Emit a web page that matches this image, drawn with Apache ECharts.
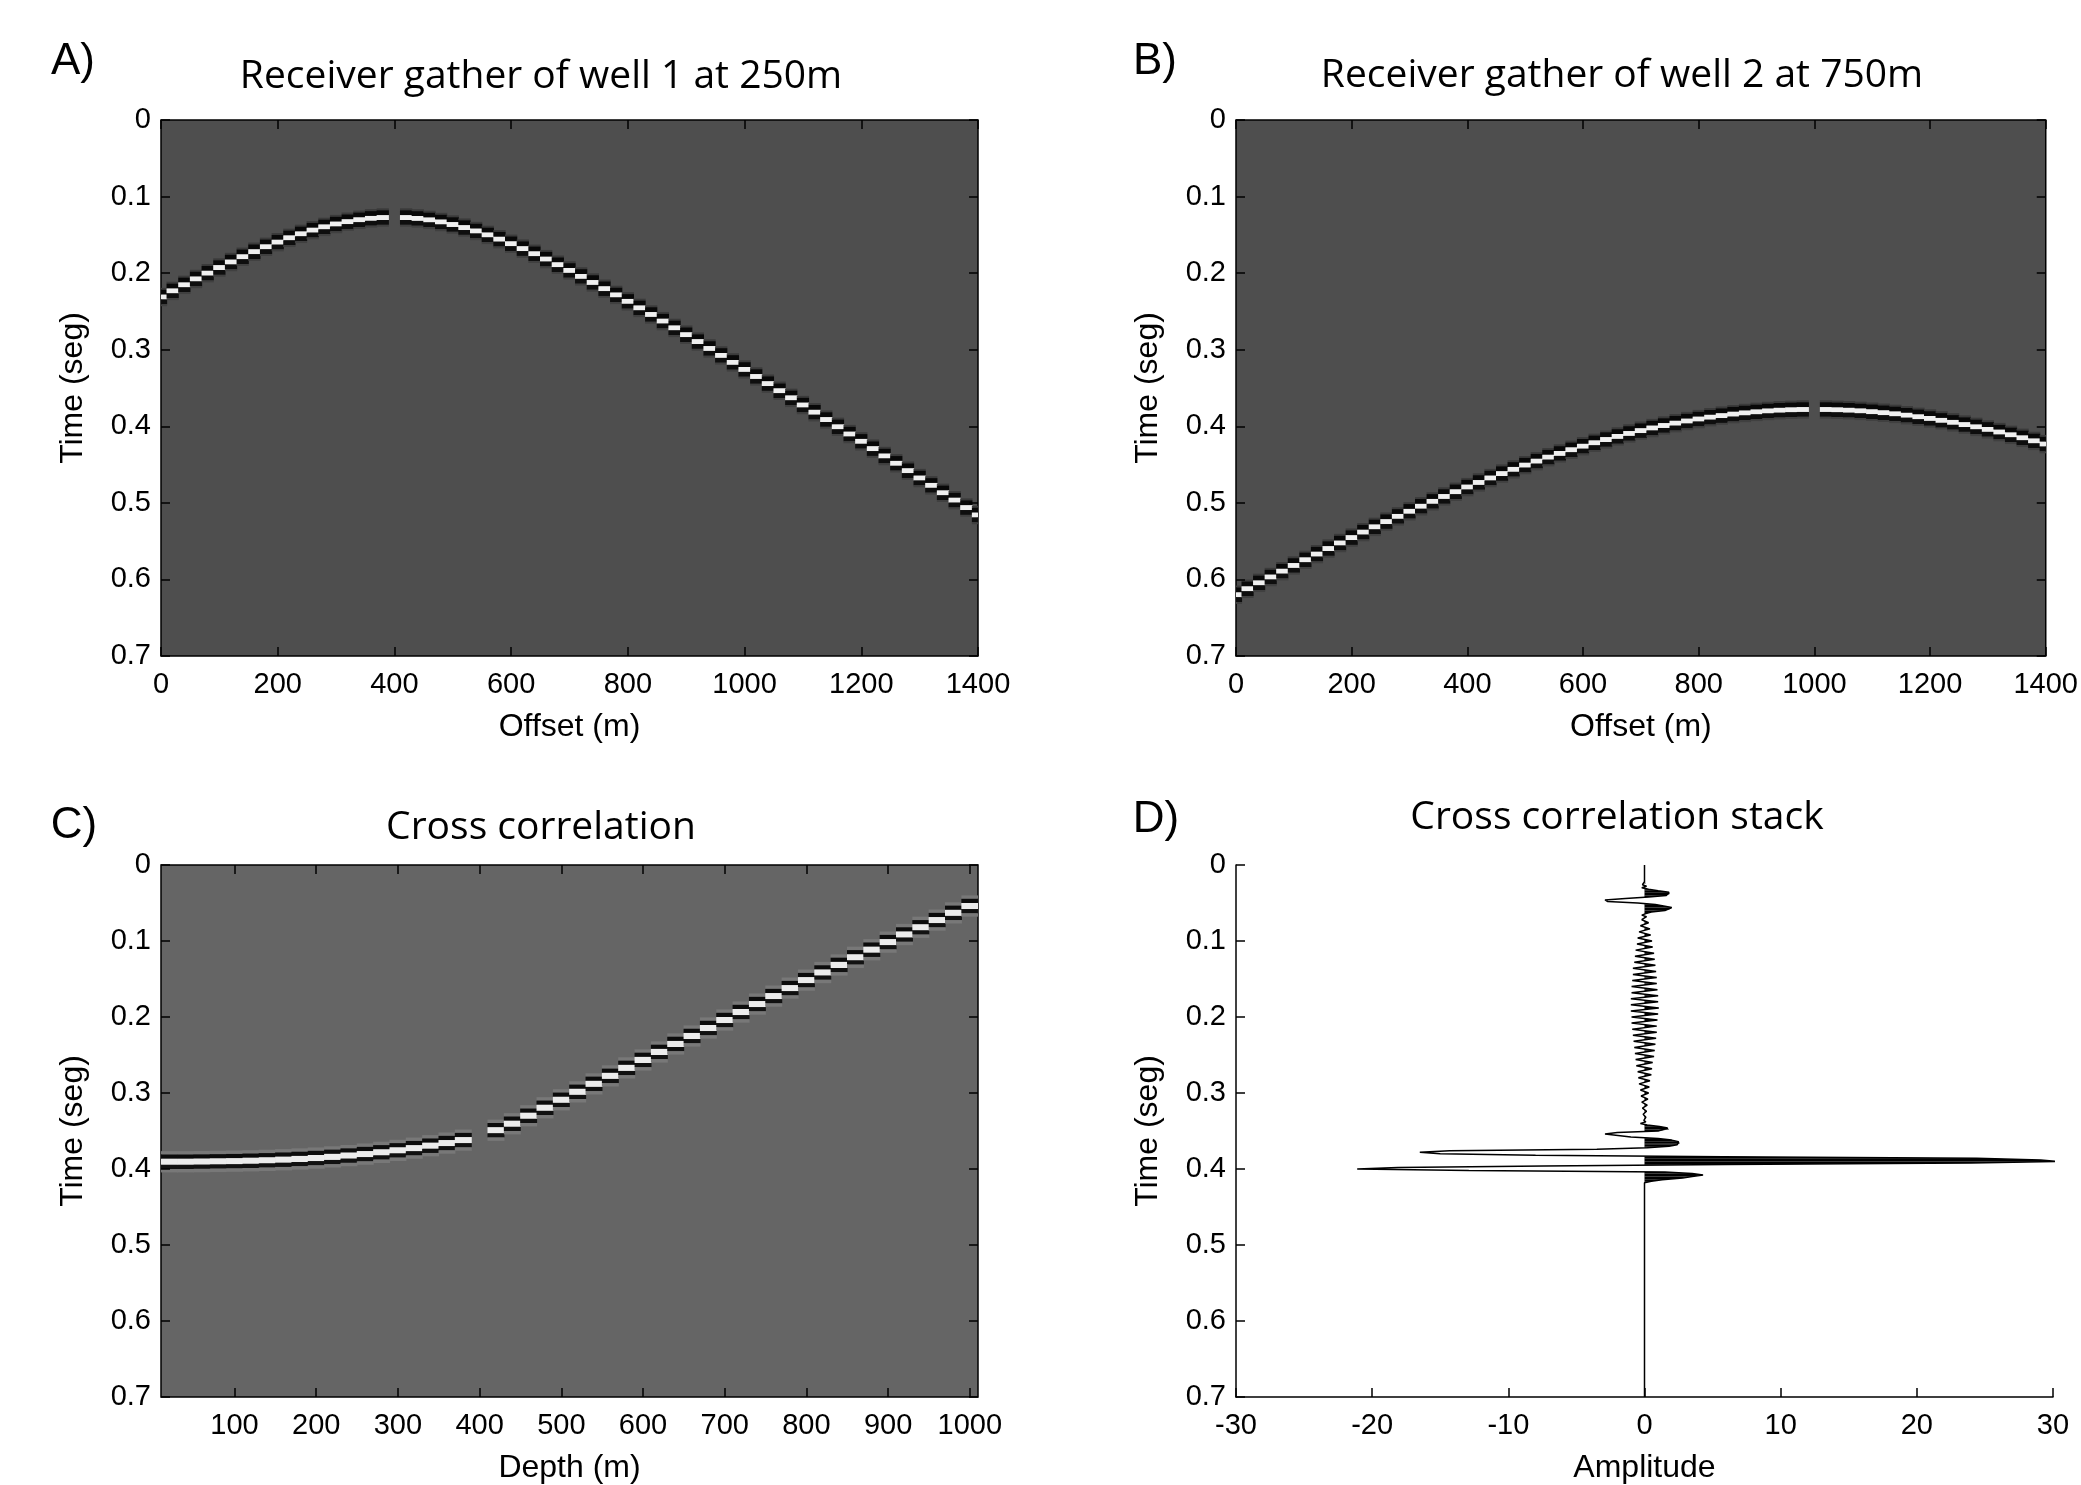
<!DOCTYPE html>
<html><head><meta charset="utf-8">
<script src="https://cdn.jsdelivr.net/npm/echarts@6/dist/echarts.min.js"></script>
<style>html,body{margin:0;padding:0;background:#fff}#chart{width:2081px;height:1485px}</style>
</head><body><div id="chart"></div>
<script>
// ---------- tick labels ----------
const timeTicks = [0, 0.1, 0.2, 0.3, 0.4, 0.5, 0.6, 0.7];
const offsetTicks = [0, 200, 400, 600, 800, 1000, 1200, 1400];
const depthTicks = [100, 200, 300, 400, 500, 600, 700, 800, 900, 1000];
const ampTicks = [-30, -20, -10, 0, 10, 20, 30];
const traceSpacing = 20;

// ---------- A) receiver gather well 1: [offset m, event time s] (dead trace at 400) ----------
const gatherA = [
  [0,0.2312],[20,0.2232],[40,0.2153],[60,0.2076],[80,0.2001],[100,0.1927],[120,0.1855],[140,0.1786],
  [160,0.1720],[180,0.1656],[200,0.1596],[220,0.1539],[240,0.1487],[260,0.1439],[280,0.1396],[300,0.1359],
  [320,0.1328],[340,0.1303],[360,0.1285],[380,0.1274],
  [420,0.1274],[440,0.1286],[460,0.1305],[480,0.1332],[500,0.1365],[520,0.1405],[540,0.1450],[560,0.1501],
  [580,0.1557],[600,0.1616],[620,0.1680],[640,0.1747],[660,0.1817],[680,0.1890],[700,0.1965],[720,0.2043],
  [740,0.2122],[760,0.2203],[780,0.2285],[800,0.2369],[820,0.2454],[840,0.2540],[860,0.2627],[880,0.2715],
  [900,0.2804],[920,0.2894],[940,0.2984],[960,0.3075],[980,0.3166],[1000,0.3258],[1020,0.3350],[1040,0.3443],
  [1060,0.3536],[1080,0.3629],[1100,0.3723],[1120,0.3817],[1140,0.3912],[1160,0.4007],[1180,0.4102],[1200,0.4197],
  [1220,0.4292],[1240,0.4388],[1260,0.4484],[1280,0.4580],[1300,0.4676],[1320,0.4772],[1340,0.4869],[1360,0.4965],
  [1380,0.5062],[1400,0.5159]
];

// ---------- B) receiver gather well 2: [offset m, event time s] (dead trace at 1000) ----------
const gatherB = [
  [0,0.6200],[20,0.6122],[40,0.6045],[60,0.5969],[80,0.5893],[100,0.5818],[120,0.5744],[140,0.5670],
  [160,0.5597],[180,0.5525],[200,0.5454],[220,0.5383],[240,0.5314],[260,0.5245],[280,0.5177],[300,0.5111],
  [320,0.5045],[340,0.4981],[360,0.4917],[380,0.4855],[400,0.4794],[420,0.4734],[440,0.4676],[460,0.4618],
  [480,0.4563],[500,0.4508],[520,0.4456],[540,0.4404],[560,0.4355],[580,0.4307],[600,0.4261],[620,0.4216],
  [640,0.4173],[660,0.4133],[680,0.4094],[700,0.4057],[720,0.4023],[740,0.3990],[760,0.3960],[780,0.3932],
  [800,0.3906],[820,0.3882],[840,0.3861],[860,0.3842],[880,0.3826],[900,0.3812],[920,0.3800],[940,0.3791],
  [960,0.3785],[980,0.3781],
  [1020,0.3781],[1040,0.3785],[1060,0.3791],[1080,0.3799],[1100,0.3810],[1120,0.3823],[1140,0.3838],[1160,0.3856],
  [1180,0.3876],[1200,0.3898],[1220,0.3923],[1240,0.3949],[1260,0.3978],[1280,0.4008],[1300,0.4041],[1320,0.4076],
  [1340,0.4112],[1360,0.4151],[1380,0.4191],[1400,0.4233]
];

// ---------- C) cross correlation: [depth m, lag time s] (dead trace at 400) ----------
const crossCorr = [
  [20,0.3905],[40,0.3905],[60,0.3903],[80,0.3900],[100,0.3897],[120,0.3892],[140,0.3886],[160,0.3878],
  [180,0.3868],[200,0.3856],[220,0.3841],[240,0.3824],[260,0.3804],[280,0.3781],[300,0.3755],[320,0.3726],
  [340,0.3694],[360,0.3659],[380,0.3620],
  [420,0.3490],[440,0.3405],[460,0.3300],[480,0.3195],[500,0.3090],[520,0.2985],[540,0.2880],[560,0.2775],
  [580,0.2670],[600,0.2565],[620,0.2460],[640,0.2355],[660,0.2250],[680,0.2145],[700,0.2040],[720,0.1935],
  [740,0.1830],[760,0.1725],[780,0.1620],[800,0.1515],[820,0.1415],[840,0.1315],[860,0.1215],[880,0.1115],
  [900,0.1015],[920,0.0915],[940,0.0820],[960,0.0725],[980,0.0630],[1000,0.0540]
];

// ---------- D) cross correlation stack: [time s, amplitude] ----------
const stackTrace = [
  [0,0],[0.022,0],[0.024,0.1],[0.026,-0.15],[0.028,0.15],[0.030,-0.2],[0.032,0.3],[0.034,1.0],
  [0.036,1.8],[0.038,1.85],[0.040,1.6],[0.042,0.3],[0.044,-1.4],[0.046,-2.9],[0.048,-2.7],[0.050,-0.5],
  [0.052,0.8],[0.054,1.4],[0.056,2.0],[0.058,1.9],[0.060,1.5],[0.062,0.5],[0.064,0.1],[0.066,-0.2],
  [0.068,0.15],[0.072,-0.2],[0.076,0.3],[0.080,-0.3],[0.084,0.4],[0.088,-0.4],[0.092,0.45],[0.096,-0.5],
  [0.100,0.55],[0.104,-0.55],[0.108,0.6],[0.112,-0.65],[0.116,0.7],[0.120,-0.7],[0.124,0.75],[0.128,-0.75],
  [0.132,0.8],[0.136,-0.85],[0.140,0.85],[0.144,-0.85],[0.148,0.9],[0.152,-0.9],[0.156,0.9],[0.160,-0.95],
  [0.164,0.95],[0.168,-0.95],[0.172,1.0],[0.176,-1.0],[0.180,1.0],[0.184,-1.0],[0.188,1.05],[0.192,-1.0],
  [0.196,1.0],[0.200,-0.95],[0.204,0.95],[0.208,-0.95],[0.212,0.9],[0.216,-0.9],[0.220,0.9],[0.224,-0.85],
  [0.228,0.85],[0.232,-0.8],[0.236,0.8],[0.240,-0.75],[0.244,0.75],[0.248,-0.7],[0.252,0.7],[0.256,-0.65],
  [0.260,0.6],[0.264,-0.6],[0.268,0.55],[0.272,-0.5],[0.276,0.5],[0.280,-0.45],[0.284,0.4],[0.288,-0.4],
  [0.292,0.35],[0.296,-0.3],[0.300,0.3],[0.304,-0.25],[0.308,0.25],[0.312,-0.2],[0.316,0.2],[0.320,-0.15],
  [0.324,0.15],[0.328,-0.1],[0.332,0.1],[0.336,-0.05],
  [0.338,0.1],[0.340,-0.3],[0.342,0.2],[0.344,1.1],[0.346,1.7],[0.348,1.8],[0.350,1.0],[0.352,-2.0],
  [0.354,-2.9],[0.356,-2.8],[0.358,-1.0],[0.360,1.0],[0.362,2.0],[0.364,2.5],[0.366,2.6],[0.368,2.4],
  [0.370,1.8],[0.372,0.2],[0.374,-3.5],[0.376,-14.3],[0.378,-16.5],[0.380,-15.0],[0.382,-8.0],[0.384,5.8],
  [0.386,24.4],[0.388,29.1],[0.390,30.2],[0.392,24.0],[0.394,6.0],[0.396,-7.4],[0.398,-18.1],[0.400,-21.1],
  [0.402,-12.9],[0.404,1.5],[0.406,3.5],[0.408,4.3],[0.410,3.5],[0.412,2.8],[0.414,1.3],[0.416,0.5],
  [0.418,0],[0.7,0]
];

// ---------- rendering helpers ----------
const chart = echarts.init(document.getElementById('chart'), null, {renderer: 'canvas'});
const tickFont = {fontFamily: 'Liberation Sans', fontSize: 29, color: '#000'};
const nameFont = {fontFamily: 'Liberation Sans', fontSize: 32, color: '#000'};
const black = '#000';
const plainNumber = v => String(v);

function bandRenderer(bands) {
  return function (params, api) {
    const c = api.coord([api.value(0), api.value(1)]);
    const w = api.size([traceSpacing, 0])[0];
    const ms = api.size([0, 0.001])[1];
    return {
      type: 'group',
      children: bands.map(b => ({
        type: 'rect',
        shape: {x: c[0] - w / 2 - 0.3, y: c[1] + b[0] * ms, width: w + 0.6, height: (b[1] - b[0]) * ms},
        style: {fill: b[2]}
      }))
    };
  };
}
const bandsAB = [[-12, -9.5, '#3a3a3a'], [-9.5, -3.2, '#080808'], [-3.2, 3.2, '#f0f0f0'], [3.2, 9.5, '#0e0e0e'], [9.5, 12, '#404040']];
const bandsC = [[-14, -9.5, '#787878'], [-9.5, -4, '#0c0c0c'], [-4, 4, '#ececec'], [4, 9.5, '#111111'], [9.5, 14, '#787878']];

function positiveFill(params, api) {
  const i = params.dataIndex;
  if (i >= stackTrace.length - 1) return null;
  const t0 = stackTrace[i][0], a0 = stackTrace[i][1];
  const t1 = stackTrace[i + 1][0], a1 = stackTrace[i + 1][1];
  if (a0 <= 0 && a1 <= 0) return null;
  let pts;
  if (a0 >= 0 && a1 >= 0) pts = [[0, t0], [a0, t0], [a1, t1], [0, t1]];
  else if (a0 > 0) { const tc = t0 + (t1 - t0) * a0 / (a0 - a1); pts = [[0, t0], [a0, t0], [0, tc]]; }
  else { const tc = t0 + (t1 - t0) * (-a0) / (a1 - a0); pts = [[0, tc], [a1, t1], [0, t1]]; }
  return {type: 'polygon', shape: {points: pts.map(p => api.coord(p))}, style: {fill: black}};
}

function xBottom(gi, min, max, ticks, name, showLine) {
  return {type: 'value', gridIndex: gi, position: 'bottom', min, max, z: 5,
    axisLine: {show: showLine, onZero: false, lineStyle: {color: black, width: 1.5}},
    axisTick: {show: true, inside: true, length: 9, customValues: ticks, lineStyle: {color: black, width: 1.5}},
    axisLabel: Object.assign({show: true, margin: 14, customValues: ticks, formatter: plainNumber}, tickFont),
    splitLine: {show: false}, name, nameLocation: 'middle', nameGap: 55, nameTextStyle: nameFont};
}
function xTop(gi, min, max, ticks) {
  return {type: 'value', gridIndex: gi, position: 'top', min, max, z: 5,
    axisLine: {show: false, onZero: false},
    axisTick: {show: true, inside: true, length: 9, customValues: ticks, lineStyle: {color: black, width: 1.5}},
    axisLabel: {show: false}, splitLine: {show: false}};
}
function yLeft(gi, showLine) {
  return {type: 'value', gridIndex: gi, position: 'left', inverse: true, min: 0, max: 0.7, z: 5,
    axisLine: {show: showLine, onZero: false, lineStyle: {color: black, width: 1.5}},
    axisTick: {show: true, inside: true, length: 9, customValues: timeTicks, lineStyle: {color: black, width: 1.5}},
    axisLabel: Object.assign({show: true, margin: 10, customValues: timeTicks, formatter: plainNumber}, tickFont),
    splitLine: {show: false}, name: 'Time (seg)', nameLocation: 'middle', nameGap: 72, nameTextStyle: nameFont};
}
function yRight(gi) {
  return {type: 'value', gridIndex: gi, position: 'right', inverse: true, min: 0, max: 0.7, z: 5,
    axisLine: {show: false, onZero: false},
    axisTick: {show: true, inside: true, length: 9, customValues: timeTicks, lineStyle: {color: black, width: 1.5}},
    axisLabel: {show: false}, splitLine: {show: false}};
}

const gridBox = {show: true, borderColor: black, borderWidth: 1.5, containLabel: false};
const titleFont = {fontFamily: 'Open Sans', fontSize: 39, fill: black, align: 'center', verticalAlign: 'middle'};
const letterFont = {fontFamily: 'Liberation Sans', fontSize: 44, fill: black, align: 'center', verticalAlign: 'middle'};

const option = {
  animation: false,
  backgroundColor: '#ffffff',
  grid: [
    Object.assign({left: 161, top: 120, width: 817, height: 536, backgroundColor: '#4e4e4e'}, gridBox),
    Object.assign({left: 1236, top: 120, width: 817, height: 536, backgroundColor: '#4e4e4e'}, gridBox),
    Object.assign({left: 161, top: 865, width: 817, height: 534, backgroundColor: '#656565'}, gridBox),
    {left: 1236, top: 865, width: 817, height: 534, show: false}
  ],
  xAxis: [
    xBottom(0, 0, 1400, offsetTicks, 'Offset (m)', false), xTop(0, 0, 1400, offsetTicks),
    xBottom(1, 0, 1400, offsetTicks, 'Offset (m)', false), xTop(1, 0, 1400, offsetTicks),
    xBottom(2, 10, 1010, depthTicks, 'Depth (m)', false), xTop(2, 10, 1010, depthTicks),
    xBottom(3, -30, 30, ampTicks, 'Amplitude', true)
  ],
  yAxis: [
    yLeft(0, false), yRight(0),
    yLeft(1, false), yRight(1),
    yLeft(2, false), yRight(2),
    yLeft(3, true)
  ],
  series: [
    {type: 'custom', name: 'Receiver gather of well 1', xAxisIndex: 0, yAxisIndex: 0, clip: true,
      encode: {x: 0, y: 1}, data: gatherA, renderItem: bandRenderer(bandsAB)},
    {type: 'custom', name: 'Receiver gather of well 2', xAxisIndex: 2, yAxisIndex: 2, clip: true,
      encode: {x: 0, y: 1}, data: gatherB, renderItem: bandRenderer(bandsAB)},
    {type: 'custom', name: 'Cross correlation', xAxisIndex: 4, yAxisIndex: 4, clip: true,
      encode: {x: 0, y: 1}, data: crossCorr, renderItem: bandRenderer(bandsC)},
    {type: 'custom', name: 'Stack fill', xAxisIndex: 6, yAxisIndex: 6, clip: false,
      encode: {x: 0, y: 1}, data: stackTrace.map(p => [p[1], p[0]]), renderItem: positiveFill},
    {type: 'line', name: 'Cross correlation stack', xAxisIndex: 6, yAxisIndex: 6, clip: false,
      data: stackTrace.map(p => [p[1], p[0]]), showSymbol: false, symbol: 'none',
      lineStyle: {color: black, width: 1.5}, z: 3}
  ],
  graphic: [
    {type: 'text', x: 541, y: 77, style: Object.assign({text: 'Receiver gather of well 1 at 250m'}, titleFont)},
    {type: 'text', x: 1622, y: 76, style: Object.assign({text: 'Receiver gather of well 2 at 750m'}, titleFont)},
    {type: 'text', x: 541, y: 828, style: Object.assign({text: 'Cross correlation'}, titleFont)},
    {type: 'text', x: 1617, y: 818, style: Object.assign({text: 'Cross correlation stack'}, titleFont)},
    {type: 'text', x: 73, y: 62, style: Object.assign({text: 'A)'}, letterFont)},
    {type: 'text', x: 1155, y: 62, style: Object.assign({text: 'B)'}, letterFont)},
    {type: 'text', x: 74, y: 826, style: Object.assign({text: 'C)'}, letterFont)},
    {type: 'text', x: 1156, y: 820, style: Object.assign({text: 'D)'}, letterFont)}
  ]
};
chart.setOption(option);
</script>
</body></html>
